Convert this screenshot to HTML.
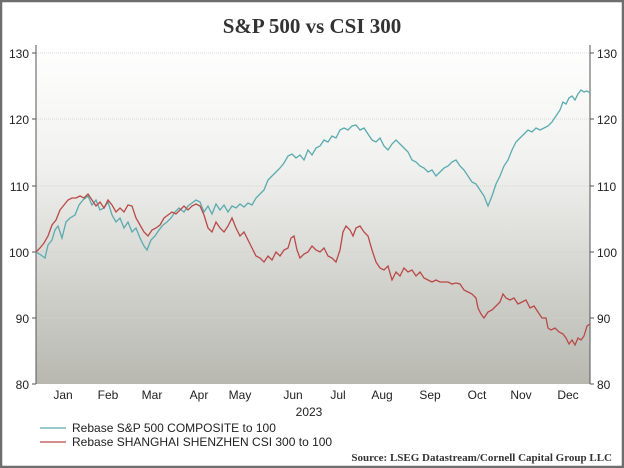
<!DOCTYPE html>
<html><head><style>
body{margin:0;width:624px;height:468px;overflow:hidden;background:#fff}
svg{display:block}
text{font-family:"Liberation Sans",sans-serif;font-size:12px;fill:#222}
</style></head><body>
<svg width="624" height="468" viewBox="0 0 624 468">
<defs><linearGradient id="g" x1="0" y1="0" x2="0" y2="1">
<stop offset="0" stop-color="#ffffff"/><stop offset="0.35" stop-color="#f1f1ef"/><stop offset="1" stop-color="#b8b8b1"/></linearGradient></defs>
<rect x="1" y="1" width="622" height="466" fill="#fff" stroke="#6e6e6e" stroke-width="2.5"/>
<text x="312" y="33" text-anchor="middle" style="font-family:'Liberation Serif',serif;font-size:21px;font-weight:bold;fill:#333">S&amp;P 500 vs CSI 300</text>
<rect x="36" y="45" width="554" height="339" fill="url(#g)"/>
<g stroke="#d0d0d0" stroke-width="0.7" stroke-dasharray="1,1">
<line x1="36" x2="590" y1="53" y2="53"/><line x1="36" x2="590" y1="119" y2="119"/><line x1="36" x2="590" y1="186" y2="186"/><line x1="36" x2="590" y1="252" y2="252"/><line x1="36" x2="590" y1="318" y2="318"/></g>
<g stroke="#555" stroke-width="1"><line x1="36" y1="45" x2="36" y2="384"/><line x1="590" y1="45" x2="590" y2="384"/>
<line x1="32" x2="36" y1="53" y2="53"/><line x1="32" x2="36" y1="119" y2="119"/><line x1="32" x2="36" y1="186" y2="186"/><line x1="32" x2="36" y1="252" y2="252"/><line x1="32" x2="36" y1="318" y2="318"/><line x1="32" x2="36" y1="384" y2="384"/>
<line x1="590" x2="594" y1="53" y2="53"/><line x1="590" x2="594" y1="119" y2="119"/><line x1="590" x2="594" y1="186" y2="186"/><line x1="590" x2="594" y1="252" y2="252"/><line x1="590" x2="594" y1="318" y2="318"/><line x1="590" x2="594" y1="384" y2="384"/></g>
<g text-anchor="end"><text x="29" y="58">130</text><text x="29" y="124">120</text><text x="29" y="191">110</text><text x="29" y="257">100</text><text x="29" y="323">90</text><text x="29" y="389">80</text></g>
<g><text x="597" y="58">130</text><text x="597" y="124">120</text><text x="597" y="191">110</text><text x="597" y="257">100</text><text x="597" y="323">90</text><text x="597" y="389">80</text></g>
<g text-anchor="middle"><text x="63" y="399">Jan</text><text x="108" y="399">Feb</text><text x="152" y="399">Mar</text><text x="199" y="399">Apr</text><text x="240" y="399">May</text><text x="293" y="399">Jun</text><text x="338" y="399">Jul</text><text x="382" y="399">Aug</text><text x="430" y="399">Sep</text><text x="477" y="399">Oct</text><text x="521" y="399">Nov</text><text x="568" y="399">Dec</text><text x="309" y="416">2023</text></g>
<polyline fill="none" stroke="#5aabaf" stroke-width="1.3" points="36,252 41,255 45,258 48,245 52,240 55,230 58,226 62,238 66,222 70,218 75,215 79,205 83,200 88,196 92,205 96,200 100,210 104,208 108,202 112,215 116,222 120,218 124,228 128,222 132,232 136,228 140,238 144,246 147,250 151,240 155,236 159,230 163,225 167,222 171,218 175,212 179,208 184,212 188,206 192,203 196,200 200,202 204,212 208,206 212,214 216,204 220,210 224,205 228,212 232,206 236,208 240,204 244,207 248,203 252,205 256,198 260,194 264,190 268,180 272,176 276,172 280,168 284,163 288,156 292,154 296,158 300,155 304,160 308,150 312,155 316,148 320,146 324,140 328,142 332,136 336,138 340,130 344,128 348,130 352,126 356,125 360,130 364,128 368,134 372,140 376,142 380,138 384,146 388,150 392,144 396,140 400,144 404,148 408,152 412,160 416,162 420,166 424,168 428,172 432,170 436,176 440,172 444,168 448,166 452,162 456,160 460,166 464,170 468,176 472,182 476,184 480,190 484,196 488,206 492,196 496,184 500,176 504,166 508,160 512,150 516,142 520,138 524,134 528,130 532,132 536,128 540,130 544,128 548,126 552,122 556,116 560,110 563,102 566,104 569,98 572,96 575,100 578,94 581,90 584,92 587,91 590,93"/>
<polyline fill="none" stroke="#b84a48" stroke-width="1.3" points="36,252 40,248 44,243 48,236 52,225 56,220 60,210 64,205 68,200 72,198 76,198 80,196 84,198 88,194 92,200 96,206 100,202 104,208 108,200 112,205 116,212 120,208 124,212 128,205 132,206 136,218 140,225 144,232 148,236 152,230 156,228 160,225 164,218 168,215 172,212 176,214 180,210 184,206 188,210 192,206 196,204 200,206 204,215 208,228 212,232 216,222 220,228 224,232 228,226 232,218 236,228 240,236 244,232 248,240 252,248 256,256 260,258 264,262 268,256 272,260 276,252 280,256 284,250 288,248 291,238 294,236 297,250 300,258 304,254 308,252 312,246 316,250 320,252 324,248 328,256 332,258 336,262 340,250 343,232 346,226 350,230 353,236 356,228 360,226 364,232 368,236 372,250 376,262 380,268 384,270 388,266 392,280 396,272 400,276 404,268 408,272 412,270 416,276 420,272 424,278 428,280 432,282 436,280 440,282 444,282 448,282 452,284 456,283 460,284 464,290 468,292 472,294 476,298 478,308 481,314 484,318 488,312 492,310 496,306 500,302 503,294 506,298 510,300 514,298 518,304 522,302 526,300 530,308 534,306 538,312 542,318 546,318 548,328 551,330 555,328 559,332 563,334 566,338 569,344 572,340 575,345 578,338 581,340 584,336 587,326 590,324"/>
<line x1="40" y1="428" x2="66" y2="428" stroke="#5aabaf" stroke-width="1.3"/>
<line x1="40" y1="442" x2="66" y2="442" stroke="#b84a48" stroke-width="1.3"/>
<text x="72" y="432">Rebase S&amp;P 500 COMPOSITE to 100</text>
<text x="72" y="446">Rebase SHANGHAI SHENZHEN CSI 300 to 100</text>
<text x="612" y="461" text-anchor="end" style="font-family:'Liberation Serif',serif;font-size:11px;font-weight:bold;fill:#333">Source: LSEG Datastream/Cornell Capital Group LLC</text>
</svg>
</body></html>
